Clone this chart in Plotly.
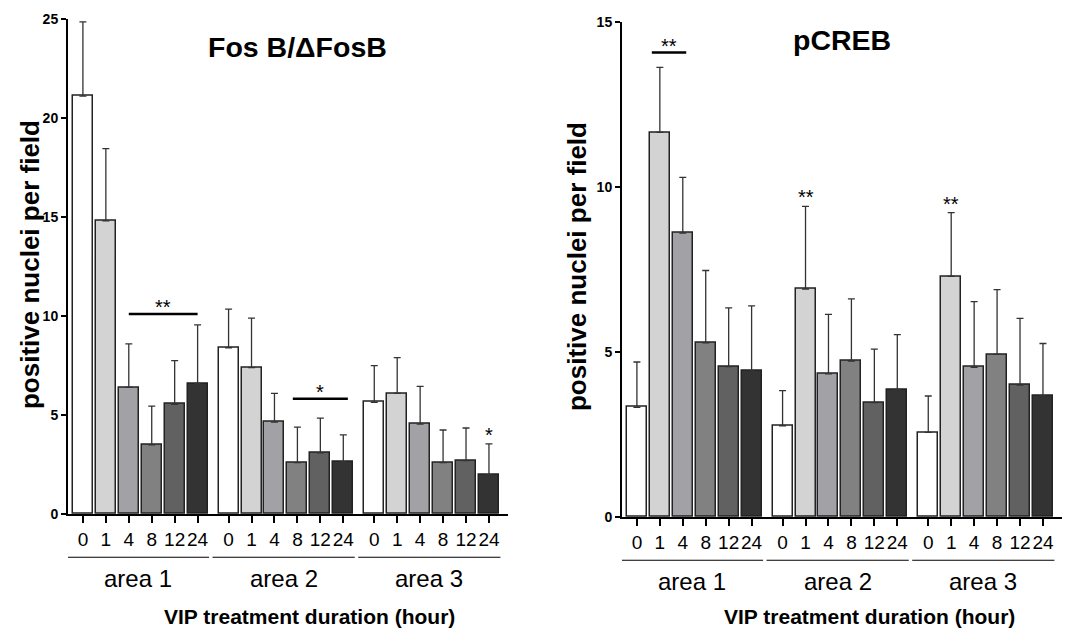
import plotly.graph_objects as go

W, H = 1081, 635
# the photographed page comes out slightly squashed vertically: shown_y ~ 0.974 * page_y + 8.2
SQ, OFF = 0.974, 8.2

areas = ["area 1", "area 2", "area 3"]
hours = ["0", "1", "4", "8", "12", "24"]
bar_colors = ["#ffffff", "#d3d3d3", "#a2a2a6", "#818181", "#616161", "#333333"]

# Fos B / deltaFosB: means and upper SEM per area (hours 0,1,4,8,12,24)
fos_mean = [21.1, 14.8, 6.4, 3.5, 5.55, 6.6,
            8.4, 7.4, 4.65, 2.6, 3.1, 2.65,
            5.65, 6.1, 4.55, 2.6, 2.7, 2.0]
fos_err = [3.75, 3.65, 2.2, 1.95, 2.2, 2.95,
           1.95, 2.5, 1.45, 1.8, 1.75, 1.35,
           1.85, 1.8, 1.9, 1.65, 1.65, 1.55]

# pCREB
creb_mean = [3.33, 11.65, 8.6, 5.28, 4.56, 4.42,
             2.77, 6.91, 4.34, 4.73, 3.47, 3.87,
             2.57, 7.29, 4.54, 4.93, 4.0, 3.68]
creb_err = [1.37, 1.97, 1.69, 2.19, 1.78, 1.98,
            1.06, 2.5, 1.8, 1.88, 1.62, 1.66,
            1.1, 1.93, 1.99, 1.96, 2.02, 1.58]

GAP = 1.35  # extra space between area groups
xpos = [g * (len(hours) + GAP - 1) + i for g in range(len(areas)) for i in range(len(hours))]
xticks = hours * len(areas)
colors = bar_colors * len(areas)


def py(px):
    return 1 - ((px - OFF) / SQ) / H


def pxx(px):
    return px / W


fig = go.Figure()

for mean, err, xa, ya in [(fos_mean, fos_err, "x", "y"), (creb_mean, creb_err, "x2", "y2")]:
    fig.add_trace(go.Bar(
        x=xpos, y=mean, xaxis=xa, yaxis=ya, width=0.87,
        marker=dict(color=colors, line=dict(color="#222222", width=1.5)),
        error_y=dict(type="data", array=err, arrayminus=[0] * len(err), symmetric=False,
                     color="#333333", thickness=1.3, width=3.5),
        showlegend=False, hoverinfo="y",
    ))

xrange = [-0.65, xpos[-1] + 0.83]
axis_common = dict(showline=True, linecolor="black", linewidth=2, showgrid=False, zeroline=False,
                   ticks="outside", tickcolor="black", tickwidth=2)
ytickfont = dict(size=14, weight="bold")

fig.update_layout(
    width=W, height=H, plot_bgcolor="white", paper_bgcolor="white",
    margin=dict(l=0, r=0, t=0, b=0),
    font=dict(family="Liberation Sans, Arial", color="black"),
    bargap=0,
    xaxis=dict(domain=[pxx(68), pxx(508)], range=xrange, tickvals=xpos, ticktext=xticks,
               tickangle=0, ticklen=7, tickfont=dict(size=19), anchor="y", **axis_common),
    yaxis=dict(domain=[py(514), py(19)], range=[0, 25], tickvals=[0, 5, 10, 15, 20, 25],
               ticklen=5, tickfont=ytickfont, anchor="x", **axis_common),
    xaxis2=dict(domain=[pxx(622), pxx(1062)], range=xrange, tickvals=xpos, ticktext=xticks,
                tickangle=0, ticklen=7, tickfont=dict(size=19), anchor="y2", **axis_common),
    yaxis2=dict(domain=[py(517), py(22)], range=[0, 15], tickvals=[0, 5, 10, 15],
                ticklen=5, tickfont=ytickfont, anchor="x2", **axis_common),
)

ann = []
shapes = []

# group lines and labels under each panel
for xa, line_y, lab_y in [("x", 557, 578), ("x2", 560, 581)]:
    for g, name in enumerate(areas):
        x0 = xpos[g * 6] - 0.7
        x1 = xpos[g * 6 + 5] + 0.5
        shapes.append(dict(type="line", xref=xa, yref="paper", x0=x0, x1=x1,
                           y0=py(line_y), y1=py(line_y), line=dict(color="black", width=1.2)))
        ann.append(dict(xref=xa, yref="paper", x=(xpos[g * 6] + xpos[g * 6 + 5]) / 2 - 0.1,
                        y=py(lab_y), text=name, showarrow=False, font=dict(size=24),
                        xanchor="center", yanchor="middle"))

# axis titles and panel titles
for cx in [309, 869]:
    ann.append(dict(xref="paper", yref="paper", x=pxx(cx), y=py(616),
                    text="<b>VIP treatment duration (hour)</b>", showarrow=False, font=dict(size=21),
                    xanchor="center", yanchor="middle"))
for cx, cy in [(30, 265), (577, 267)]:
    ann.append(dict(xref="paper", yref="paper", x=pxx(cx), y=py(cy), textangle=-90,
                    text="<b>positive nuclei per field</b>", showarrow=False, font=dict(size=26),
                    xanchor="center", yanchor="middle"))
ann.append(dict(xref="paper", yref="paper", x=pxx(297), y=py(47), text="<b>Fos B/ΔFosB</b>",
                showarrow=False, font=dict(size=28.5), xanchor="center", yanchor="middle"))
ann.append(dict(xref="paper", yref="paper", x=pxx(842), y=py(40), text="<b>pCREB</b>",
                showarrow=False, font=dict(size=28.5), xanchor="center", yanchor="middle"))

# significance marks: (axis suffix, x from, x to, y of line)
sig_lines = [("", xpos[2], xpos[5], 10.1, "**"),
             ("", xpos[9] - 0.2, xpos[11] + 0.2, 5.83, "*"),
             ("2", xpos[1] - 0.35, xpos[2] + 0.15, 14.07, "**")]
for ax, x0, x1, yv, txt in sig_lines:
    shapes.append(dict(type="line", xref="x" + ax, yref="y" + ax, x0=x0, x1=x1, y0=yv, y1=yv,
                       line=dict(color="black", width=2.5)))
    ann.append(dict(xref="x" + ax, yref="y" + ax, x=(x0 + x1) / 2, y=yv, yanchor="bottom",
                    text=txt, showarrow=False, font=dict(size=20), yshift=-6))

sig_bars = [("", 17, fos_mean, fos_err, "*"),
            ("2", 7, creb_mean, creb_err, "**"),
            ("2", 13, creb_mean, creb_err, "**")]
for ax, k, mean, err, txt in sig_bars:
    ann.append(dict(xref="x" + ax, yref="y" + ax, x=xpos[k], y=mean[k] + err[k], yanchor="bottom",
                    text=txt, showarrow=False, font=dict(size=20), yshift=-4))

fig.update_layout(annotations=ann, shapes=shapes)

# drop the browser's default body margin so the horizontal positions line up
fig.write_html("out.html", config={"displayModeBar": False},
               post_script="document.body.style.margin='0px';")
